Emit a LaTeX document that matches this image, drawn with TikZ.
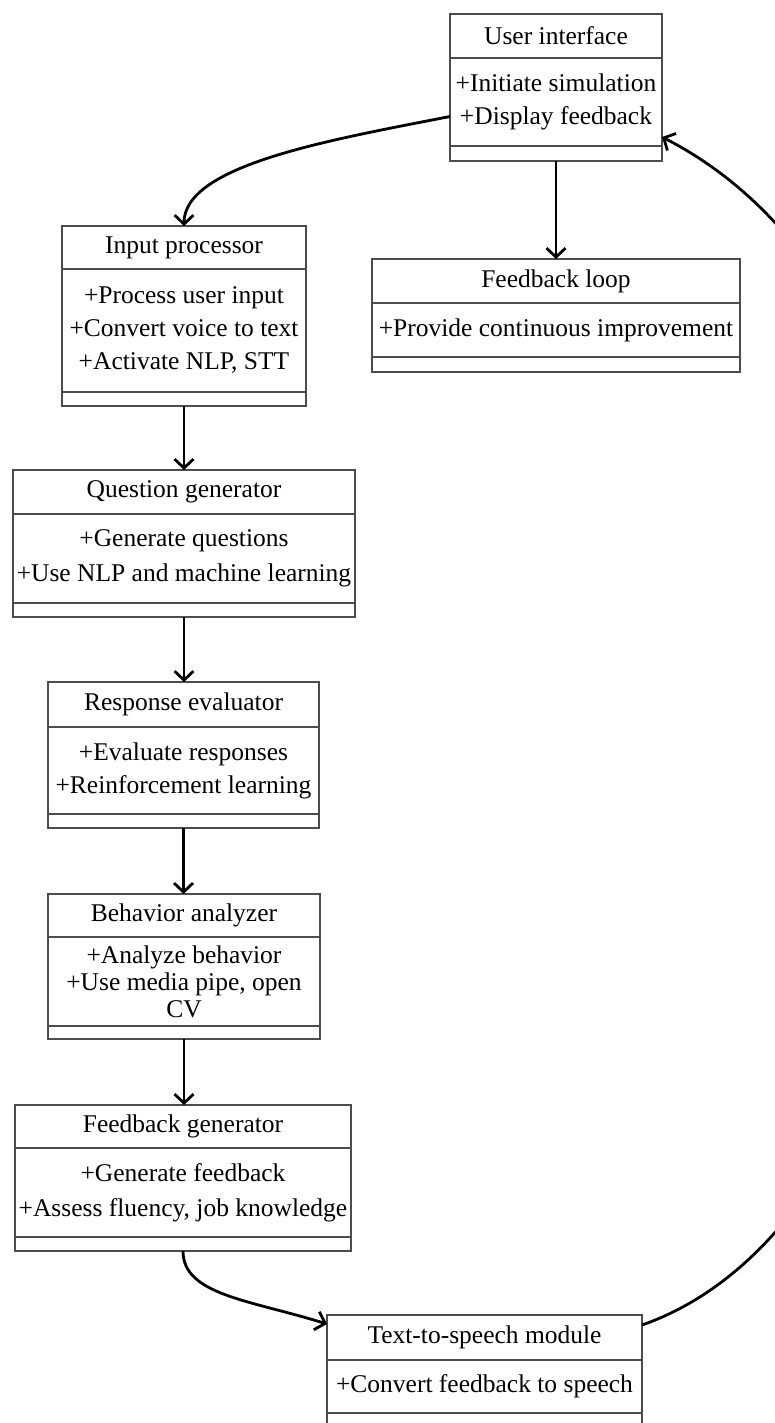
\documentclass[tikz,border=0pt]{standalone}
\usepackage{fontspec}
\setmainfont{Liberation Serif}
\usetikzlibrary{fit,arrows.meta}

% one UML class: id, left, top, right, head line, ops line, bottom, name, operations
\newcommand{\umlclass}[9]{%
  \node[classbox, fit={(#2,#3) (#4,#7)}] (#1) {};
  \draw[classline] (#2,#5) -- (#4,#5);
  \draw[classline] (#2,#6) -- (#4,#6);
  \node[classname] (#1-name) at ({(#2+#4)/2},{(#3+#5)/2}) {#8};
  \node[classops] (#1-ops) at ({(#2+#4)/2},{(#5+#6)/2}) {#9};
}

\begin{document}
\begin{tikzpicture}[
  x=1pt, y=-1pt,
  font=\fontsize{25.5}{33}\selectfont,
  classbox/.style={draw=black!70, line width=1.7pt, inner sep=0pt, outer sep=0pt},
  classline/.style={draw=black!70, line width=1.7pt},
  classname/.style={inner sep=0pt, align=center},
  classops/.style={inner sep=0pt, align=center},
  link/.style={line width=2.8pt, -{Straight Barb[length=9pt,width=19pt]}}
]

\useasboundingbox[fill=white] (0,0) rectangle (774,1423);

% right-hand column
\umlclass{ui}{450}{14}{662}{58}{146}{161}{User interface}{+Initiate simulation\\+Display feedback}
\umlclass{fl}{372}{259}{740}{303}{357}{372}{Feedback loop}{+Provide continuous improvement}

% left-hand column, top to bottom
\umlclass{inp}{62}{226}{306}{269}{392}{406}{Input processor}{+Process user input\\+Convert voice to text\\+Activate NLP, STT}
\umlclass{qg}{13}{470}{355}{514}{603}{617}{Question generator}{+Generate questions\\[2pt]+Use NLP and machine learning}
\umlclass{re}{48}{682}{319}{727}{814}{828}{Response evaluator}{+Evaluate responses\\+Reinforcement learning}
\umlclass{ba}{48}{894}{320}{937}{1026}{1039}{Behavior analyzer}{+Analyze behavior\\[-6pt]+Use media pipe, open\\[-6pt]CV}
\umlclass{fg}{15}{1105}{351}{1148}{1237}{1251}{Feedback generator}{+Generate feedback\\[2pt]+Assess fluency, job knowledge}

% runs off the bottom edge
\umlclass{tts}{327}{1315}{642}{1360}{1413}{1430}{Text-to-speech module}{+Convert feedback to speech}

% flow
\draw[link] ([yshift=-29pt]ui.west) .. controls (330,140) and (184,165) .. (inp.north);
\draw[link] (ui.south) -- (ui.south |- fl.north);
\draw[link] (inp.south) -- (inp.south |- qg.north);
\draw[link] (qg.south) -- (qg.south |- re.north);
\draw[link] (re.south) -- (re.south |- ba.north);
\draw[link] (ba.south) -- (ba.south |- fg.north);
\draw[link] (fg.south) .. controls (183,1295) and (250,1300) .. ([yshift=-9pt]tts.north west);

% loop back round the right edge
\draw[link] ([yshift=-10pt]tts.north east) .. controls (1000,1200) and (1060,340) .. ([yshift=24pt]ui.south east);

\end{tikzpicture}
\end{document}
